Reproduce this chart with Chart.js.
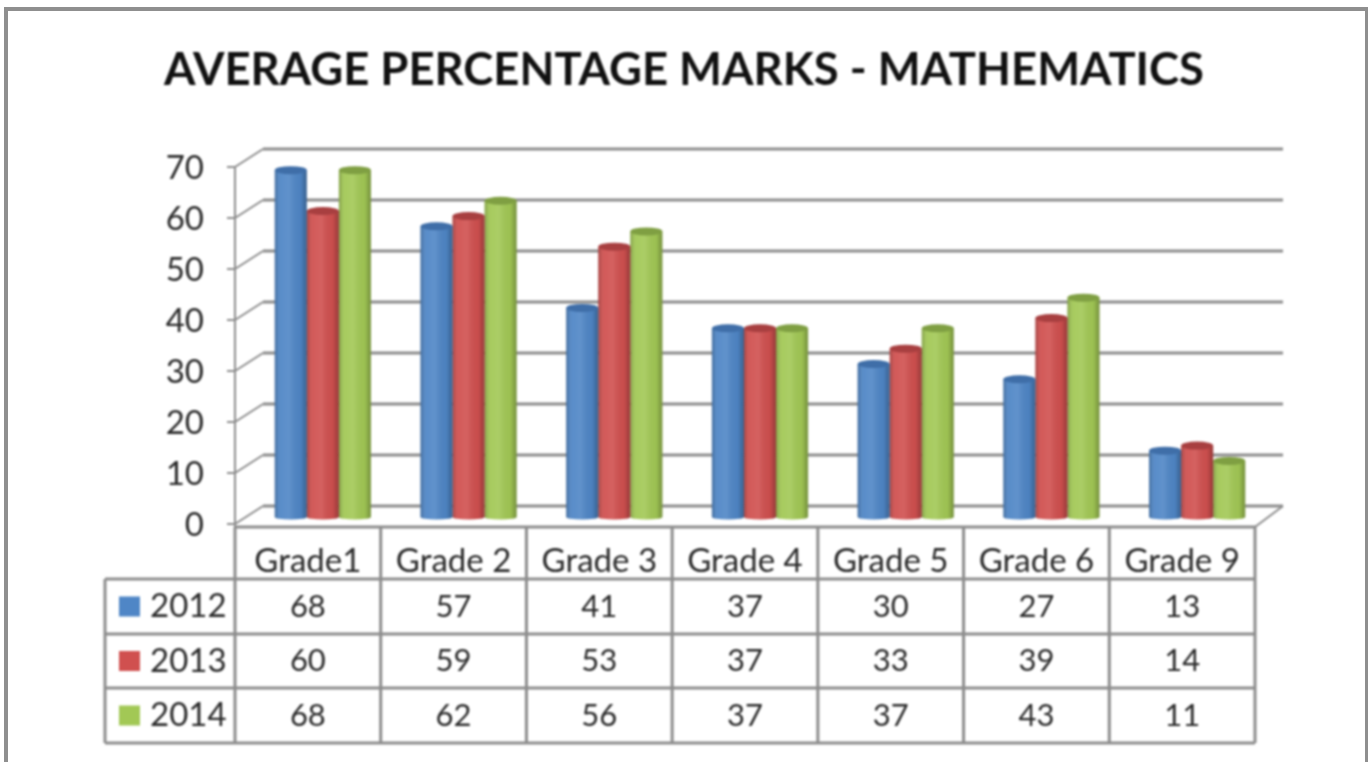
<!DOCTYPE html>
<html>
<head>
<meta charset="utf-8">
<title>Average percentage marks - Mathematics</title>
<script src="https://cdn.jsdelivr.net/npm/chart.js@4"></script>
<style>
html, body { margin: 0; padding: 0; background: #fff; overflow: hidden; }
#frame { position: absolute; left: 4px; top: 7px; width: 1357px; height: 770px; border: solid #8f8f8f; border-width: 4px 3px 0 4px; filter: blur(0.7px); }
canvas { position: absolute; left: 0; top: 0; filter: blur(0.8px); }
</style>
</head>
<body>
<div id="frame"></div>
<canvas id="chart" width="1368" height="762"></canvas>
<script>
// данные с картинки
const categories = ["Grade1", "Grade 2", "Grade 3", "Grade 4", "Grade 5", "Grade 6", "Grade 9"];
const series2012 = [68, 57, 41, 37, 30, 27, 13];
const series2013 = [60, 59, 53, 37, 33, 39, 14];
const series2014 = [68, 62, 56, 37, 37, 43, 11];
const yTicks = [0, 10, 20, 30, 40, 50, 60, 70];

const GRID = "#8c8c8c";
const TEXT = "#2a2a2a";
const FONT = "Lato";

// смещения передней и задней стенки относительно плоскости столбиков
const FRONT_DX = -15, FRONT_DY = 7;
const BACK_DX = 13, BACK_DY = -11;
// строки таблицы под графиком
const ROWS = [527, 579, 634, 688, 743];

function line(ctx, x1, y1, x2, y2, w) {
  ctx.lineWidth = w;
  ctx.beginPath();
  ctx.moveTo(x1, y1);
  ctx.lineTo(x2, y2);
  ctx.stroke();
}

// стенки и сетка "под 3D"
const wallsPlugin = {
  id: "walls",
  beforeDatasetsDraw(chart) {
    const ctx = chart.ctx, y = chart.scales.y, area = chart.chartArea;
    ctx.save();
    ctx.strokeStyle = GRID;
    yTicks.forEach(v => {
      const py = y.getPixelForValue(v);
      line(ctx, area.left + BACK_DX, py + BACK_DY, area.right + BACK_DX, py + BACK_DY, 3);
      line(ctx, area.left + FRONT_DX, py + FRONT_DY, area.left + BACK_DX, py + BACK_DY, 2);
      line(ctx, area.left + FRONT_DX - 8, py + FRONT_DY, area.left + FRONT_DX, py + FRONT_DY, 2);
    });
    line(ctx, area.left + FRONT_DX, y.getPixelForValue(70) + FRONT_DY, area.left + FRONT_DX, ROWS[0], 2);
    line(ctx, area.right + FRONT_DX, ROWS[0], area.right + BACK_DX, y.getPixelForValue(0) + BACK_DY, 2);
    ctx.restore();
  }
};

// цилиндры: блик по столбику и эллипсы сверху и снизу
const cylinderPlugin = {
  id: "cylinder",
  afterDatasetDraw(chart, args) {
    const ctx = chart.ctx;
    const meta = chart.getDatasetMeta(args.index);
    const ds = chart.data.datasets[args.index];
    ctx.save();
    meta.data.forEach(bar => {
      const w = bar.width, left = bar.x - w / 2;
      const g = ctx.createLinearGradient(left, 0, left + w, 0);
      g.addColorStop(0, "rgba(0,0,0,0.22)");
      g.addColorStop(0.18, "rgba(255,255,255,0.06)");
      g.addColorStop(0.45, "rgba(255,255,255,0.1)");
      g.addColorStop(0.8, "rgba(0,0,0,0.03)");
      g.addColorStop(1, "rgba(0,0,0,0.28)");
      // низ цилиндра
      ctx.fillStyle = ds.backgroundColor;
      ctx.beginPath();
      ctx.ellipse(bar.x, bar.base, w / 2, 2.5, 0, 0, Math.PI);
      ctx.fill();
      ctx.fillStyle = g;
      ctx.beginPath();
      ctx.ellipse(bar.x, bar.base, w / 2, 2.5, 0, 0, Math.PI);
      ctx.fill();
      ctx.fillRect(left, bar.y, w, bar.base - bar.y);
      // крышка
      ctx.fillStyle = ds.capColor;
      ctx.beginPath();
      ctx.ellipse(bar.x, bar.y, w / 2, 4, 0, 0, Math.PI * 2);
      ctx.fill();
    });
    ctx.restore();
  }
};

// таблица данных с легендой
const tablePlugin = {
  id: "dataTable",
  afterDraw(chart) {
    const ctx = chart.ctx, x = chart.scales.x;
    const step = x.width / categories.length;
    const x0 = x.left + FRONT_DX;
    const legendLeft = 105;
    ctx.save();
    ctx.strokeStyle = GRID;
    line(ctx, x0 - 1, ROWS[0], x0 + step * categories.length + 1, ROWS[0], 3);
    for (let i = 1; i < ROWS.length; i++) {
      line(ctx, legendLeft, ROWS[i], x0 + step * categories.length, ROWS[i], 3);
    }
    line(ctx, legendLeft, ROWS[1], legendLeft, ROWS[4], 3);
    for (let i = 0; i <= categories.length; i++) {
      line(ctx, x0 + step * i, ROWS[0], x0 + step * i, ROWS[4], 3);
    }
    ctx.textBaseline = "middle";
    chart.data.datasets.forEach((ds, r) => {
      const cy = (ROWS[r + 1] + ROWS[r + 2]) / 2;
      ctx.fillStyle = ds.backgroundColor;
      ctx.fillRect(119, cy - 10, 21, 20);
      ctx.fillStyle = TEXT;
      ctx.font = "33px " + FONT;
      ctx.textAlign = "left";
      ctx.fillText(ds.label, 150, cy);
      ctx.font = "31px " + FONT;
      ctx.textAlign = "center";
      ds.data.forEach((v, i) => {
        ctx.fillText(String(v), x0 + step * (i + 0.5), cy);
      });
    });
    ctx.restore();
  }
};

new Chart(document.getElementById("chart"), {
  type: "bar",
  data: {
    labels: categories,
    datasets: [
      { label: "2012", data: series2012, backgroundColor: "#4f86c6", capColor: "#3f6ea8" },
      { label: "2013", data: series2013, backgroundColor: "#d0504f", capColor: "#a83f40" },
      { label: "2014", data: series2014, backgroundColor: "#a2c855", capColor: "#7f9f42" }
    ]
  },
  options: {
    responsive: false,
    animation: false,
    layout: { padding: { right: 98, left: 98, top: 0, bottom: 0 } },
    datasets: { bar: { categoryPercentage: 0.66, barPercentage: 1 } },
    plugins: {
      legend: { display: false },
      tooltip: { enabled: false },
      title: {
        display: true,
        text: "AVERAGE PERCENTAGE MARKS - MATHEMATICS",
        color: "#111111",
        font: { family: FONT, size: 45.4, weight: "bold", lineHeight: 1.2 },
        padding: { top: 43, bottom: 62.5 }
      }
    },
    scales: {
      x: {
        grid: { display: false, drawTicks: false },
        border: { display: false },
        afterFit(scale) { scale.height = 245; },
        ticks: {
          autoSkip: false, maxRotation: 0, minRotation: 0,
          labelOffset: FRONT_DX,
          padding: 25,
          color: TEXT,
          font: { family: FONT, size: 33 }
        }
      },
      y: {
        min: 0,
        max: 70,
        grid: { display: false, drawTicks: false },
        border: { display: false },
        afterFit(scale) { scale.width = 152; },
        ticks: {
          stepSize: 10,
          labelOffset: 8,
          padding: 46,
          color: TEXT,
          font: { family: FONT, size: 33 }
        }
      }
    }
  },
  plugins: [wallsPlugin, cylinderPlugin, tablePlugin]
});
</script>
</body>
</html>
